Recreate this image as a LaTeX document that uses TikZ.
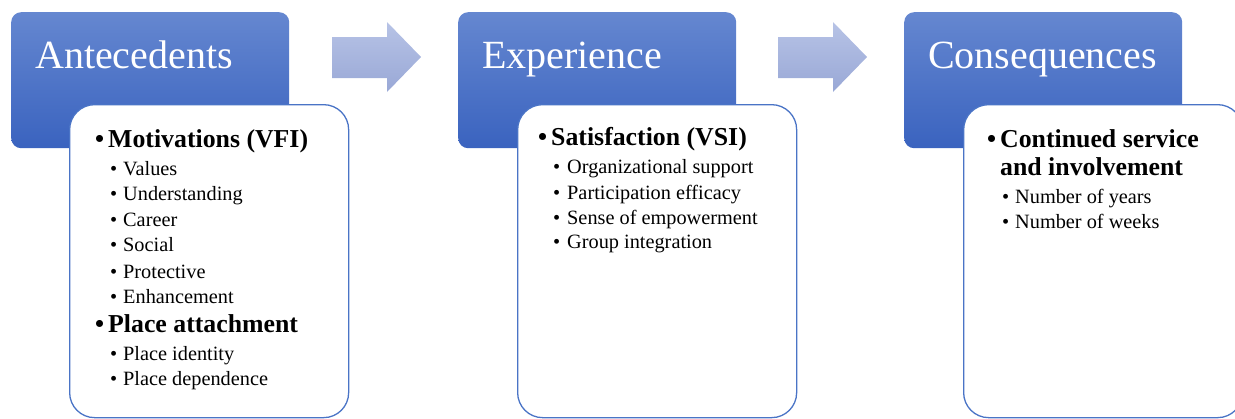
\documentclass[tikz,border=0pt]{standalone}
\usepackage{fontspec}
\setmainfont{LiberationSerif}[Extension=.ttf, UprightFont=*-Regular, BoldFont=*-Bold, ItalicFont=*-Italic, BoldItalicFont=*-BoldItalic]
\begin{document}
\begin{tikzpicture}[x=1pt,y=-1pt,
  stagebox/.style={rounded corners=10pt, top color=stagetop, bottom color=stagebot,
    draw=none, minimum width=278pt, minimum height=136pt, anchor=north west, inner sep=0pt},
  listbox/.style={rounded corners=25pt, fill=white, draw=listedge, line width=1.3pt,
    minimum width=279pt, minimum height=313pt, anchor=north west, inner sep=0pt},
  title/.style={anchor=base west, inner sep=0pt, text=white, font=\fontsize{40}{46}\selectfont},
  head/.style={anchor=base west, inner sep=0pt, font=\fontsize{25.8}{30}\selectfont\bfseries},
  item/.style={anchor=base west, inner sep=0pt, font=\fontsize{20.3}{24}\selectfont},
  flow/.style={top color=arrowtop, bottom color=arrowbot, draw=none}]
\definecolor{stagetop}{HTML}{6587D0}
\definecolor{stagebot}{HTML}{3A63BF}
\definecolor{listedge}{HTML}{4A74C6}
\definecolor{arrowtop}{HTML}{B7C3E6}
\definecolor{arrowbot}{HTML}{99A8D6}
\useasboundingbox (0,0) rectangle (1235,418);
\clip (0,0) rectangle (1235,418);

% flow arrows between the stages
\shade[flow] (332,37) -- (387,37) -- (387,22) -- (421,57) -- (387,92) -- (387,78) -- (332,78) -- cycle;
\shade[flow] (778,37) -- (833,37) -- (833,22) -- (867,57) -- (833,92) -- (833,78) -- (778,78) -- cycle;

% stage 1
\node[stagebox] (s1) at (11,12) {};
\node[listbox] (l1) at (69,104) {};
\node[title] (t1) at (35,68) {Antecedents};
\node[head] (h1b) at (95,147) {•};
\node[head] (h1) at (108,147) {Motivations (VFI)};
\foreach \y/\txt [count=\i] in {175/Values,200/Understanding,226/Career,251/Social,278/Protective,303/Enhancement}{
  \node[item] (b1\i) at (110,\y) {•};
  \node[item] (i1\i) at (123,\y) {\txt};
}
\node[head] (h2b) at (95,332) {•};
\node[head] (h2) at (108,332) {Place attachment};
\foreach \y/\txt [count=\i] in {360/Place identity,385/Place dependence}{
  \node[item] (b2\i) at (110,\y) {•};
  \node[item] (i2\i) at (123,\y) {\txt};
}

% stage 2
\node[stagebox] (s2) at (458,12) {};
\node[listbox] (l2) at (517,104) {};
\node[title] (t2) at (482,68) {Experience};
\node[head] (h3b) at (538,145) {•};
\node[head] (h3) at (551,145) {Satisfaction (VSI)};
\foreach \y/\txt [count=\i] in {173/Organizational support,199/Participation efficacy,224/Sense of empowerment,248/Group integration}{
  \node[item] (b3\i) at (553,\y) {•};
  \node[item] (i3\i) at (567,\y) {\txt};
}

% stage 3
\node[stagebox] (s3) at (904,12) {};
\node[listbox] (l3) at (963,104) {};
\node[title] (t3) at (928,68) {Consequences};
\node[head] (h4b) at (987,147) {•};
\node[head] (h4) at (1000,147) {Continued service};
\node[head] (h4c) at (1000,175) {and involvement};
\foreach \y/\txt [count=\i] in {203/Number of years,228/Number of weeks}{
  \node[item] (b4\i) at (1002,\y) {•};
  \node[item] (i4\i) at (1015,\y) {\txt};
}
\end{tikzpicture}
\end{document}
